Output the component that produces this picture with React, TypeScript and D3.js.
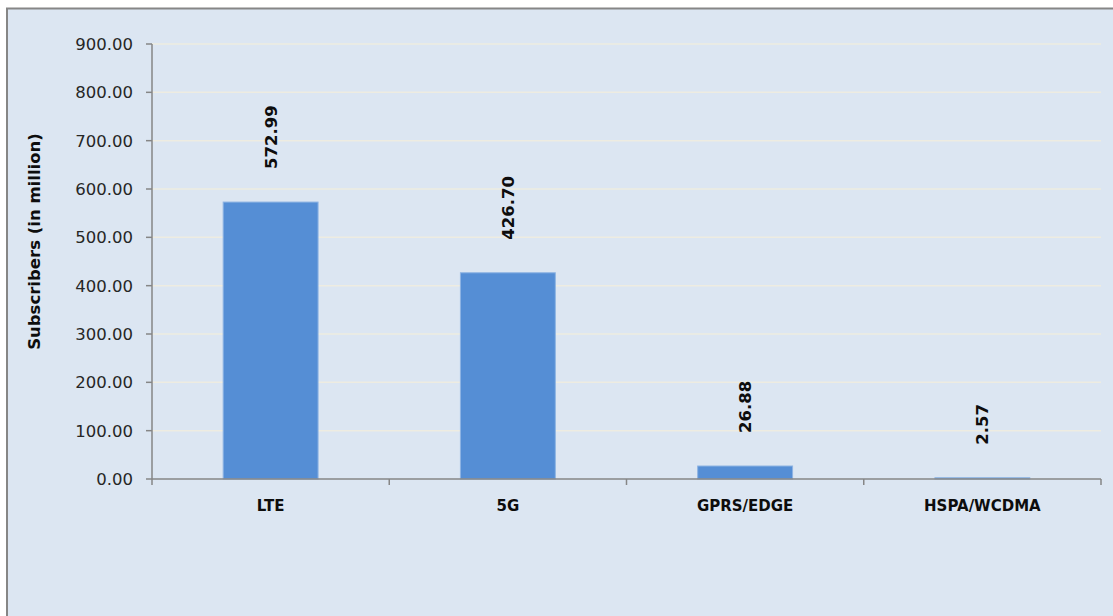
import React from "react";
import * as d3 from "d3";

const categories = ["LTE", "5G", "GPRS/EDGE", "HSPA/WCDMA"];
const subscribers = [572.99, 426.7, 26.88, 2.57];
const yTicks = [0, 100, 200, 300, 400, 500, 600, 700, 800, 900];
const yTitle = "Subscribers (in million)";

const W = 1113;
const H = 616;
const M = { left: 152, right: 12, top: 44, bottom: 137 };

export default function App() {
  const x = d3
    .scaleBand<string>()
    .domain(categories)
    .range([M.left, W - M.right])
    .paddingInner(0.6)
    .paddingOuter(0.3);
  const xOuter = d3.scaleBand<string>().domain(categories).range([M.left, W - M.right]);
  const y = d3.scaleLinear().domain([0, 900]).range([H - M.bottom, M.top]);
  const axisColor = "#868686";
  const font = "'DejaVu Sans', sans-serif";
  const y0 = y(0);
  const boundaries = [...categories.map((c) => xOuter(c) as number), W - M.right];

  return (
    <svg
      width={W}
      height={H}
      style={{ position: "absolute", left: 0, top: 0, background: "#fff" }}
      fontFamily={font}
    >
      <rect x={7} y={8} width={W - 7} height={H - 8} fill="#DCE6F2" />
      <line x1={7} x2={7} y1={8} y2={H} stroke={axisColor} strokeWidth={2} />
      <line x1={6} x2={W} y1={8.5} y2={8.5} stroke={axisColor} strokeWidth={2} />

      {yTicks.map((t) => (
        <g key={t}>
          {t > 0 && (
            <line x1={M.left} x2={W - M.right} y1={y(t)} y2={y(t)} stroke="#EEECE1" strokeWidth={1.5} />
          )}
          <line x1={M.left - 6} x2={M.left} y1={y(t)} y2={y(t)} stroke={axisColor} strokeWidth={1.5} />
          <text x={M.left - 19} y={y(t)} dy="0.36em" textAnchor="end" fontSize={16.5} fill="#262626">
            {d3.format(".2f")(t)}
          </text>
        </g>
      ))}

      {categories.map((c, i) => (
        <rect
          key={c}
          x={x(c)}
          y={y(subscribers[i])}
          width={x.bandwidth()}
          height={y0 - y(subscribers[i])}
          fill="#558ED5"
          stroke="#8EB4E3"
          strokeWidth={1}
        />
      ))}

      <line x1={M.left} x2={M.left} y1={y(900)} y2={y0} stroke={axisColor} strokeWidth={1.5} />
      <line x1={M.left} x2={W - M.right} y1={y0} y2={y0} stroke={axisColor} strokeWidth={1.5} />
      {boundaries.map((b, i) => (
        <line key={i} x1={b} x2={b} y1={y0} y2={y0 + 6} stroke={axisColor} strokeWidth={1.5} />
      ))}

      {categories.map((c, i) => {
        const cx = (x(c) as number) + x.bandwidth() / 2;
        return (
          <g key={c}>
            <text x={cx} y={y0 + 32} textAnchor="middle" fontSize={15} fontWeight="bold" fill="#0d0d0d">
              {c}
            </text>
            <text
              transform={`translate(${cx + 6},${y(subscribers[i]) - 33}) rotate(-90)`}
              textAnchor="start"
              fontSize={16.5}
              fontWeight="bold"
              fill="#0d0d0d"
            >
              {d3.format(".2f")(subscribers[i])}
            </text>
          </g>
        );
      })}

      <text
        transform={`translate(40,${(y(900) + y0) / 2 - 20}) rotate(-90)`}
        textAnchor="middle"
        fontSize={16.5}
        fontWeight="bold"
        fill="#0d0d0d"
      >
        {yTitle}
      </text>
    </svg>
  );
}
